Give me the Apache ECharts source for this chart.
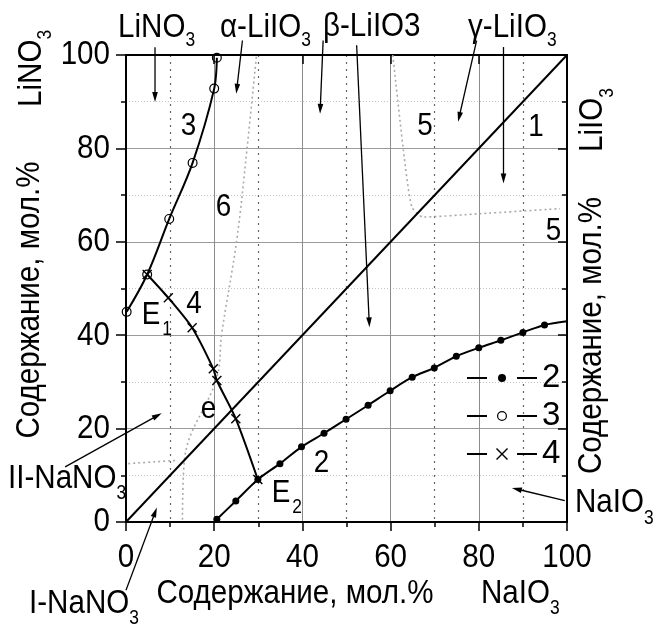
<!DOCTYPE html>
<html><head><meta charset="utf-8">
<script src="https://cdn.jsdelivr.net/npm/echarts@6/dist/echarts.min.js"></script>
<style>html,body{margin:0;padding:0;background:#fff}#c{width:657px;height:624px}</style>
</head><body><div id="c"></div>
<script>
// ---- data ----
const xTickValues = [0, 20, 40, 60, 80, 100];
const yTickValues = [0, 20, 40, 60, 80, 100];
const line1 = [[0, 0], [100, 100]];
const curve2 = [[20.6,0.6],[24.9,4.5],[29.9,9.1],[34.9,12.5],[39.8,16.1],[44.9,19.0],[49.9,22.0],[54.9,25.0],[59.9,28.1],[64.9,31.0],[69.9,33.0],[74.9,35.5],[80,37.3],[85,38.9],[90,40.6],[94.9,42.2],[100,43.0]];
const curve3 = [[0.15,45],[4.8,53],[9.8,64.9],[15.1,76.9],[20,92.8],[20.6,99.4]];
const curve4 = [[4.8,53],[9.6,48],[15,41.6],[19.8,32.8],[20.6,30.3],[24.9,22.1],[29.9,9.1]];
const border6 = [[12.8,0.5],[13.2,12.8],[20.6,31],[21.7,40.3],[25.1,60.3],[27.4,79.6],[29.6,100]];
const borderII = [[0.5,12.5],[11.5,13.2]];
const border5 = [[60.5,100],[62.9,79.6],[64.8,67.5],[67.4,65.3],[80,66],[98.4,67.1]];
// arrows in data units: [x0,y0,x1(head),y1(head)]
const arrows = [
  [6.58,101.65,6.58,89.96],
  [26.4,103.1,25.0,91.7],
  [44.7,103.1,44.0,87.4],
  [52.3,102.1,55.2,41.7],
  [79.5,103.1,75.3,85.7],
  [85.6,101.7,85.6,72.5],
  [-13.8,11.8,8.1,23.3],
  [0,-14.6,7.0,3.1],
  [99.5,4.6,87.5,7.3]
];

const FONT = '"Liberation Sans", Arial, sans-serif';
const SX = 0.87; // horizontal condensation of the original lettering
const mctx = document.createElement('canvas').getContext('2d');
function tw(t, s) { mctx.font = s + 'px ' + FONT; return mctx.measureText(t).width * SX; }

const RING = 'path://M0,5A5,5 0 1 0 10,5A5,5 0 1 0 0,5Z M1.2,5A3.8,3.8 0 1 1 8.8,5A3.8,3.8 0 1 1 1.2,5Z';
const CROSS = 'path://M0,1L1,0L5,4L9,0L10,1L6,5L10,9L9,10L5,6L1,10L0,9L4,5Z';
const SPECK = 'M0,0L0.01,0L0,0.01Z M70,14L69.99,14L70,13.99Z ';
const LEG_DOT = 'path://' + SPECK + 'M0,6H20V8H0Z M50,6H70V8H50Z M31,7A4,4 0 1 0 39,7A4,4 0 1 0 31,7Z';
const LEG_RING = 'path://' + SPECK + 'M0,6H20V8H0Z M50,6H70V8H50Z M30,7A5,5 0 1 0 40,7A5,5 0 1 0 30,7Z M31.2,7A3.8,3.8 0 1 1 38.8,7A3.8,3.8 0 1 1 31.2,7Z';
const LEG_X = 'path://' + SPECK + 'M0,6H20V8H0Z M50,6H70V8H50Z M29,2L30,1L35,6L40,1L41,2L36,7L41,12L40,13L35,8L30,13L29,12L34,7Z';

const chart = echarts.init(document.getElementById('c'), null, {renderer: 'canvas'});

function axisX(pos) {
  const main = pos === 'bottom';
  return {
    type: 'value', position: pos, min: xTickValues[0], max: xTickValues[xTickValues.length - 1],
    interval: xTickValues[1] - xTickValues[0],
    axisLine: {show: true, onZero: false, lineStyle: {color: '#000', width: 2}},
    axisTick: {show: true, inside: !main, length: 9, lineStyle: {color: '#000', width: 1.5}},
    minorTick: {show: main, splitNumber: 2, length: 5, lineStyle: {color: '#000', width: 1.5}},
    axisLabel: {show: false},
    splitLine: {show: main, lineStyle: {color: '#8c8c8c', width: 1}},
    minorSplitLine: {show: main, lineStyle: {color: '#666', width: 1.2, type: [2, 5]}}
  };
}
function axisY(pos) {
  const main = pos === 'left';
  return {
    type: 'value', position: pos, min: yTickValues[0], max: yTickValues[yTickValues.length - 1],
    interval: yTickValues[1] - yTickValues[0],
    axisLine: {show: true, onZero: false, lineStyle: {color: '#000', width: 2}},
    axisTick: {show: true, inside: !main, length: main ? 10 : 9, lineStyle: {color: '#000', width: 1.5}},
    minorTick: {show: true, splitNumber: 2, length: 5, lineStyle: {color: '#000', width: 1.5}},
    axisLabel: {show: false},
    splitLine: {show: main, lineStyle: {color: '#9a9a9a', width: 1}},
    minorSplitLine: {show: main, lineStyle: {color: '#c4c4c4', width: 1, type: [1, 2]}}
  };
}

function ln(name, data, extra) {
  return Object.assign({
    name: name, type: 'line', data: data, xAxisIndex: 0, yAxisIndex: 0,
    showSymbol: true, symbol: 'none', silent: true, emphasis: {disabled: true},
    lineStyle: {color: '#000', width: 2}, itemStyle: {color: '#000', borderWidth: 0},
    clip: false, z: 3
  }, extra || {});
}
const gray = {color: '#aaaaaa', width: 1.6, type: [2, 3]};

const option = {
  animation: false,
  backgroundColor: '#fff',
  grid: {left: 126, top: 55, width: 441, height: 467, containLabel: false},
  xAxis: [axisX('bottom'), axisX('top')],
  yAxis: [axisY('left'), axisY('right')],
  legend: {
    orient: 'vertical', left: 462, top: 356, itemWidth: 70, itemHeight: 14, itemGap: 4,
    selectedMode: false,
    textStyle: {fontSize: 33, fontFamily: FONT, color: '#000', lineHeight: 34},
    data: [{name: '2', icon: LEG_DOT}, {name: '3', icon: LEG_RING}, {name: '4', icon: LEG_X}]
  },
  series: [
    ln('b6', border6, {smooth: 0.4, lineStyle: gray, z: 2}),
    ln('bII', borderII, {lineStyle: gray, z: 2}),
    ln('b5', border5, {smooth: 0.2, lineStyle: gray, z: 2}),
    ln('1', line1),
    ln('2', curve2.map((p, i) => i === curve2.length - 1 ? {value: p, symbol: 'none'} : p), {symbol: 'circle', symbolSize: 7, smooth: 0.3}),
    ln('3', curve3, {symbol: RING, symbolSize: 10, smooth: 0.35}),
    ln('4', curve4, {symbol: CROSS, symbolSize: 10, smooth: 0.25})
  ]
};
chart.setOption(option);

// ---- annotations ----
function txt(x, y, s, size, align) {
  return {type: 'text', x: x, y: y, scaleX: SX, silent: true, z: 10,
    style: {text: s, fontSize: size, fontFamily: FONT, fill: '#000',
      align: align || 'left', verticalAlign: 'middle', textAlign: align || 'left', textVerticalAlign: 'middle'}};
}
function withSub(x, y, main, sb, size, subSize, dy, gap) {
  const w = tw(main, size);
  return [txt(x, y, main, size), txt(x + w + (gap || 0), y + dy, sb, subSize)];
}
function vert(x, y, children) { return {type: 'group', x: x, y: y, rotation: Math.PI / 2, children: children}; }

const S = 34, SUB = 20, IN = 32;
let els = [];
// tick labels, placed through the axes
xTickValues.forEach(v => {
  const px = chart.convertToPixel({xAxisIndex: 0}, v);
  els.push(txt(px, 557.5, String(v), S, 'center'));
});
yTickValues.forEach(v => {
  const py = chart.convertToPixel({yAxisIndex: 0}, v);
  els.push(txt(110, py, String(v), S, 'right'));
});
els = els.concat(withSub(118, 27.5, 'LiNO', '3', S, SUB, 13));
els = els.concat(withSub(220, 27.5, 'α-LiIO', '3', S, SUB, 13));
els.push(txt(323, 26.5, 'β-LiIO3', S));
els = els.concat(withSub(468, 27.5, 'γ-LiIO', '3', S, SUB, 13));
els.push(txt(295, 594, 'Содержание, мол.%', S, 'center'));
els = els.concat(withSub(481, 594, 'NaIO', '3', S, SUB, 14));
els = els.concat(withSub(29, 604, 'I-NaNO', '3', S, SUB, 14));
els = els.concat(withSub(8, 479, 'II-NaNO', '3', S, SUB, 14));
els = els.concat(withSub(575, 503, 'NaIO', '3', S, SUB, 15));
els.push(vert(31.5, 107, withSub(0, 0, 'LiNO', '3', S, SUB, 14)));
els.push(vert(593, 152, withSub(0, 0, 'LiIO', '3', S, SUB, 14)));
els.push(vert(30, 300, [txt(0, 0, 'Содержание, мол.%', S, 'center')]));
els.push(vert(592, 335.5, [txt(0, 0, 'Содержание, мол.%', S, 'center')]));
// in-plot labels
els.push(txt(188.5, 126, '3', IN, 'center'));
els.push(txt(223.5, 207, '6', IN, 'center'));
els.push(txt(194, 304, '4', IN, 'center'));
els = els.concat(withSub(141.7, 315, 'E', '1', IN, SUB, 14, 2));
els.push(txt(208.5, 409, 'e', IN, 'center'));
els.push(txt(321.5, 463.5, '2', IN, 'center'));
els = els.concat(withSub(271.7, 493, 'E', '2', IN, SUB, 14, 2));
els.push(txt(425, 126, '5', IN, 'center'));
els.push(txt(536, 127, '1', IN, 'center'));
els.push(txt(553.5, 231, '5', IN, 'center'));

function arrowEls(a) {
  const p0 = chart.convertToPixel({gridIndex: 0}, [a[0], a[1]]);
  const p1 = chart.convertToPixel({gridIndex: 0}, [a[2], a[3]]);
  const dx = p1[0] - p0[0], dy = p1[1] - p0[1];
  const L = Math.hypot(dx, dy), ux = dx / L, uy = dy / L;
  const hl = 10, hw = 2.8;
  const bx = p1[0] - ux * hl, by = p1[1] - uy * hl;
  return [
    {type: 'line', silent: true, z: 9, shape: {x1: p0[0], y1: p0[1], x2: bx + ux * 1, y2: by + uy * 1}, style: {stroke: '#000', lineWidth: 1.3}},
    {type: 'polygon', silent: true, z: 9, shape: {points: [[p1[0], p1[1]], [bx - uy * hw, by + ux * hw], [bx + uy * hw, by - ux * hw]]}, style: {fill: '#000'}}
  ];
}
arrows.forEach(a => { els = els.concat(arrowEls(a)); });
chart.setOption({graphic: {elements: els}});
</script>
</body></html>
